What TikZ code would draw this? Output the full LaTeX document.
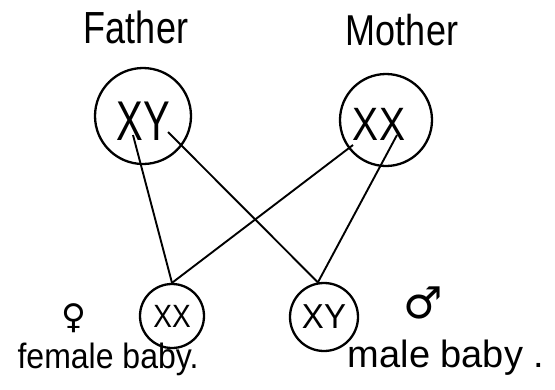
\documentclass[tikz,border=0pt]{standalone}
\usepackage{fontspec}
\setmainfont{Liberation Sans}
\newfontfamily\symfont{DejaVu Sans}
\begin{document}
\begin{tikzpicture}[x=1pt,y=-1pt,
  cell/.style={draw,circle,inner sep=0pt,line width=2.3pt},
  label/.style={inner sep=0pt,anchor=base},
  link/.style={line width=1.9pt}]
\useasboundingbox (0,0) rectangle (555,389);

% parents
\node[label] (ftitle) at (136,43) {\scalebox{1}[1.25]{\fontsize{36}{40}\selectfont Father}};
\node[label] (mtitle) at (402,45) {\scalebox{1}[1.2]{\fontsize{36}{40}\selectfont Mother}};
\node[cell,minimum size=96pt] (father) at (143,116) {};
\node[cell,minimum size=92pt] (mother) at (386,120) {};
\node (fgenes) at (143,121) {\scalebox{1}[1.4]{\fontsize{40}{44}\selectfont XY}};
\node (mgenes) at (379,124) {\scalebox{1}[1.2]{\fontsize{39}{44}\selectfont XX}};

% children
\node[cell,minimum size=64pt] (girl) at (172,316) {\scalebox{1}[1.15]{\fontsize{28}{32}\selectfont XX}};
\node[cell,minimum size=68pt] (boy) at (324,317) {\scalebox{1}[1.05]{\fontsize{33}{36}\selectfont XY}};

% chromosome end points
\coordinate (fx) at (133,135);
\coordinate (fy) at (168,132);
\coordinate (mx1) at (353,145);
\coordinate (mx2) at (397,135);

\draw[link] (fx) -- (girl.north);
\draw[link] (mx1) -- (girl.north);
\draw[link] (fy) -- (boy.100);
\draw[link] (mx2) -- (boy.100);

% labels
\node[inner sep=0pt] (venus) at (74,318) {\symfont\fontsize{34}{38}\selectfont ♀};
\node[label] (flabel) at (108,368) {\scalebox{1}[1.1]{\fontsize{32}{34}\selectfont female baby.}};
\node[inner sep=0pt] (mars) at (423,303) {\symfont\fontsize{44}{48}\selectfont ♂};
\node[label] (mlabel) at (446,367) {\fontsize{38}{42}\selectfont male baby~.};
\end{tikzpicture}
\end{document}
